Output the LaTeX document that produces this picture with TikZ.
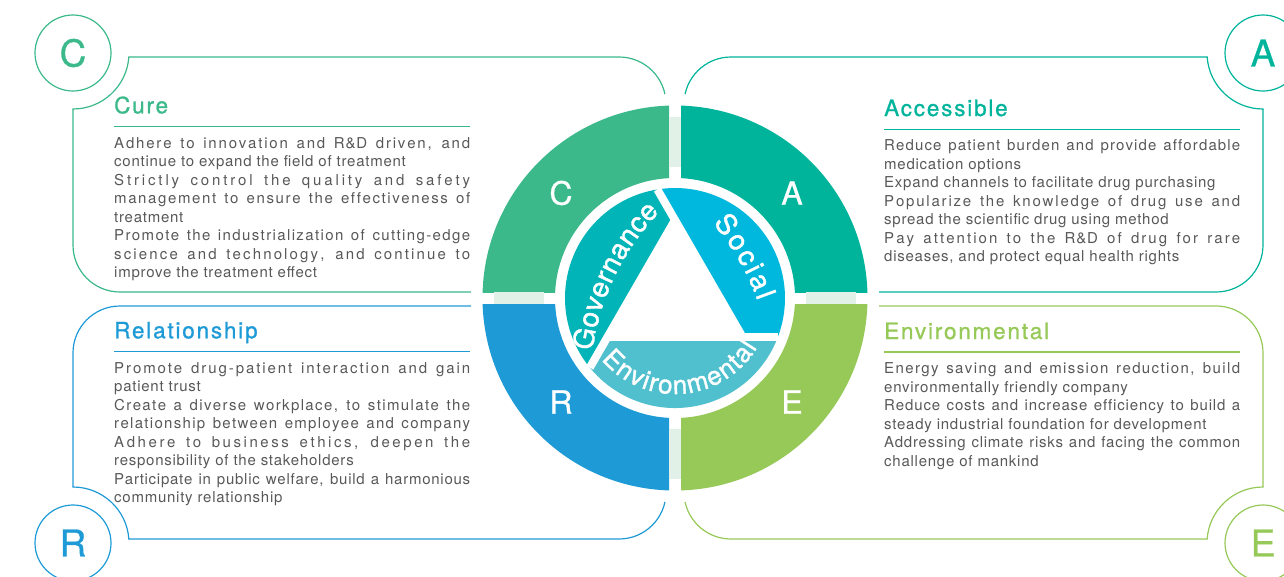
\documentclass[tikz,border=0pt]{standalone}
\usepackage{fontspec}
\setmainfont{TeX Gyre Heros}
\newfontfamily\hfont[LetterSpace=8,FakeBold=1]{TeX Gyre Heros}
\newfontfamily\bfont[LetterSpace=5]{TeX Gyre Heros}
\newfontfamily\mfont[FakeBold=1.3]{TeX Gyre Heros}
\newfontfamily\qfont[FakeBold=0.8]{TeX Gyre Heros}
\usetikzlibrary{decorations.text,calc}
\definecolor{cC}{HTML}{3BB98A}
\definecolor{cA}{HTML}{00B49C}
\definecolor{cR}{HTML}{1E9AD6}
\definecolor{cE}{HTML}{96C958}
\definecolor{cGov}{HTML}{00B4B8}
\definecolor{cSoc}{HTML}{00B8DE}
\definecolor{cEnv}{HTML}{50C0CE}
\definecolor{band}{HTML}{E1F1E7}
\definecolor{txt}{HTML}{58585A}
% letter-spread justification for justified lines
\newcount\jlc
\jlc=`a \loop\XeTeXcharclass\jlc=7 \ifnum\jlc<`z \advance\jlc by 1 \repeat
\jlc=`A \loop\XeTeXcharclass\jlc=7 \ifnum\jlc<`Z \advance\jlc by 1 \repeat
\XeTeXcharclass`\,=7
\XeTeXcharclass`\-=7
\XeTeXinterchartoks 7 7 = {\hskip 0pt plus 0.4fil\relax}
\newcommand\jl[1]{\makebox[356pt][s]{\XeTeXinterchartokenstate=1 \spaceskip=0.278em plus 1fil\relax #1}}
\newcommand\labfont{\mfont\fontsize{28}{28}\selectfont}
\newcommand\envfont{\mfont\fontsize{26}{26}\selectfont}
\tikzset{
 boxline/.style={line width=1.2pt, line cap=round, rounded corners=47},
 arcline/.style={line width=1.2pt, line cap=round},
 ringline/.style={line width=1.2pt},
 cornerletter/.style={font=\qfont\fontsize{37}{37}\selectfont, inner sep=0},
 bigletter/.style={font=\qfont\fontsize{32}{32}\selectfont, text=white, inner sep=0},
 hdr/.style={font=\hfont\fontsize{22.5}{22.5}\selectfont, inner sep=0, anchor=base west},
 body/.style={font=\bfont\fontsize{15}{18.5}\selectfont, text=txt, inner sep=0, anchor=base west},
 rule/.style={line width=1.2pt},
 gap/.style={white, line width=8pt},
}
\begin{document}
\begin{tikzpicture}[x=1pt,y=-1pt]
\useasboundingbox (0,0) rectangle (1284,576);
\coordinate (O) at (675,298);
% ---------- frames ----------
\draw[boxline, cC] (73,109) -- (73,292) -- (666,292) -- (666,57) -- (129,57);
\draw[arcline, cC] (73,109) arc[start angle=90, end angle=4, radius=56];
\draw[boxline, cA] (1263,109) -- (1263,292) -- (684,292) -- (684,57) -- (1207,57);
\draw[arcline, cA] (1263,109) arc[start angle=90, end angle=176, radius=56];
\draw[boxline, cR] (73,487) -- (73,306) -- (666,306) -- (666,539) -- (129,539);
\draw[arcline, cR] (73,487) arc[start angle=-90, end angle=-4, radius=56];
\draw[boxline, cE] (1263,487) -- (1263,306) -- (684,306) -- (684,539) -- (1207,539);
\draw[arcline, cE] (1263,487) arc[start angle=270, end angle=184, radius=56];
% ---------- corner circles ----------
\draw[ringline, cC] (73,53) circle[radius=38];
\node[cornerletter, text=cC] (lc) at (73,53) {C};
\draw[ringline, cA] (1263,53) circle[radius=38];
\node[cornerletter, text=cA] (la) at (1263,53) {A};
\draw[ringline, cR] (73,543) circle[radius=38];
\node[cornerletter, text=cR] (lr) at (73,543) {R};
\draw[ringline, cE] (1263,543) circle[radius=38];
\node[cornerletter, text=cE] (le) at (1263,543) {E};
% ---------- central wheel ----------
\fill[white] (O) circle[radius=204];
\begin{scope}
\clip (0,0) rectangle (669,292);
\fill[cC, even odd rule] (O) circle[radius=192.5] (O) circle[radius=120];
\end{scope}
\begin{scope}
\clip (681,0) rectangle (1284,292);
\fill[cA, even odd rule] (O) circle[radius=192.5] (O) circle[radius=120];
\end{scope}
\begin{scope}
\clip (0,304) rectangle (669,576);
\fill[cR, even odd rule] (O) circle[radius=192.5] (O) circle[radius=120];
\end{scope}
\begin{scope}
\clip (681,304) rectangle (1284,576);
\fill[cE, even odd rule] (O) circle[radius=192.5] (O) circle[radius=120];
\end{scope}
\fill[band] (669,117) rectangle (681,167);
\fill[band] (669,429) rectangle (681,479);
\fill[band] (494,292) rectangle (544,304);
\fill[band] (806,292) rectangle (856,304);
\node[bigletter] (bc) at (561,193) {C};
\node[bigletter] (ba) at (792,193) {A};
\node[bigletter] (br) at (561,402) {R};
\node[bigletter] (be) at (792,402) {E};
% inner triangle segments
\coordinate (T) at (675,220);
\coordinate (L) at (607.45,337);
\coordinate (Rv) at (742.55,337);
\coordinate (E1) at (657.35,189.45);
\coordinate (E2) at (589.8,367.6);
\coordinate (E3) at (777.9,337);
\fill[cSoc] (E1) arc[start angle=260.77, end angle=380.76, radius=110] -- (Rv) -- (T) -- cycle;
\fill[cGov] (E2) arc[start angle=140.75, end angle=260.77, radius=110] -- (T) -- (L) -- cycle;
\fill[cEnv] (E3) arc[start angle=20.76, end angle=140.75, radius=110] -- (L) -- (Rv) -- cycle;
\draw[gap] (Rv) -- (E1);
\draw[gap] (T) -- (E2);
\draw[gap] (L) -- (E3);
\fill[white] (T) -- (L) -- (Rv) -- cycle;
\path[decorate, decoration={text along path, text={|\labfont|Governance}, text align={fit to path}, text color=white}]
  (592.3,351) arc[start angle=187.8, end angle=223.8, radius=250];
\path[decorate, decoration={text along path, text={|\labfont|Social}, text align={fit to path}, text color=white}]
  (712.9,223.1) arc[start angle=-40.2, end angle=-19.5, radius=250];
\path[decorate, decoration={text along path, text={|\envfont|Environmental}, text align={fit to path}, text color=white}]
  ($(O)+(140:96)$) arc[start angle=140, end angle=31, radius=96];
% ---------- texts ----------
\node[hdr, text=cC] (hcure) at (114,113.3) {Cure};
\draw[rule, cC] (114,126.7) -- (470,126.7);
\node[body] (tcure) at (114,148.3) {\parbox[t]{356pt}{%
\jl{Adhere to innovation and R\&D driven, and}\\
continue to expand the field of treatment\\
\jl{Strictly control the quality and safety}\\
\jl{management to ensure the effectiveness of}\\
treatment\\
\jl{Promote the industrialization of cutting-edge}\\
\jl{science and technology, and continue to}\\
improve the treatment effect}};
\node[hdr, text=cA] (hacc) at (884,116) {Accessible};
\draw[rule, cA] (884,129.3) -- (1240,129.3);
\node[body] (tacc) at (884,150.7) {\parbox[t]{356pt}{%
\jl{Reduce patient burden and provide affordable}\\
medication options\\
Expand channels to facilitate drug purchasing\\
\jl{Popularize the knowledge of drug use and}\\
spread the scientific drug using method\\
\jl{Pay attention to the R\&D of drug for rare}\\
diseases, and protect equal health rights}};
\node[hdr, text=cR] (hrel) at (114,338.3) {Relationship};
\draw[rule, cR] (114,351.7) -- (470,351.7);
\node[body] (trel) at (114,373.3) {\parbox[t]{356pt}{%
\jl{Promote drug-patient interaction and gain}\\
patient trust\\
\jl{Create a diverse workplace, to stimulate the}\\
\jl{relationship between employee and company}\\
\jl{Adhere to business ethics, deepen the}\\
responsibility of the stakeholders\\
\jl{Participate in public welfare, build a harmonious}\\
community relationship}};
\node[hdr, text=cE] (henv) at (884,339) {Environmental};
\draw[rule, cE] (884,352) -- (1240,352);
\node[body] (tenv) at (884,373.7) {\parbox[t]{356pt}{%
\jl{Energy saving and emission reduction, build}\\
environmentally friendly company\\
\jl{Reduce costs and increase efficiency to build a}\\
steady industrial foundation for development\\
\jl{Addressing climate risks and facing the common}\\
challenge of mankind}};
\end{tikzpicture}
\end{document}
